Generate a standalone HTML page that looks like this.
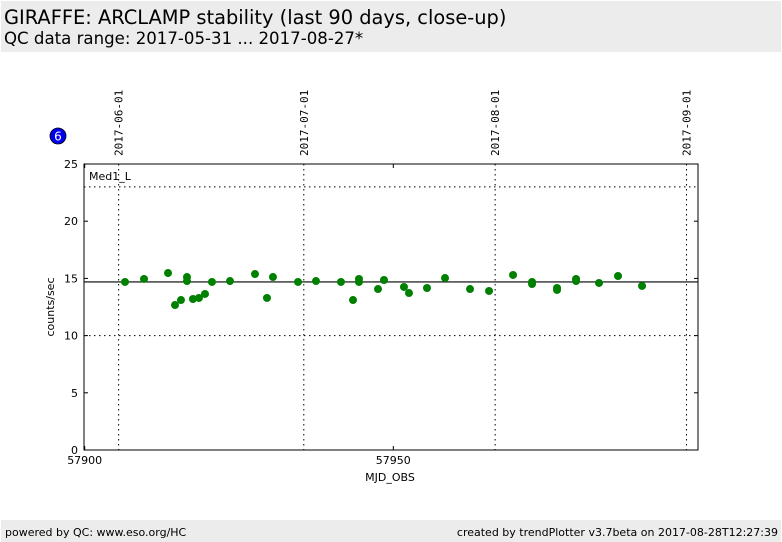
<!DOCTYPE html>
<html><head><meta charset="utf-8"><style>
body{margin:0;width:782px;height:542px;background:#fff;overflow:hidden;font-family:"DejaVu Sans","Liberation Sans",sans-serif;}
.hdr{position:absolute;left:1px;top:1px;width:780px;height:51px;background:#ececec;}
.t1{position:absolute;left:3px;top:5px;font-size:19.4px;color:#000;white-space:nowrap;}
.t2{position:absolute;left:3px;top:28px;font-size:16.6px;color:#000;white-space:nowrap;}
.ftr{position:absolute;left:1px;top:520px;width:780px;height:22px;background:#ececec;font-size:11px;}
</style></head><body>
<div class="hdr">
<div class="t1">GIRAFFE: ARCLAMP stability (last 90 days, close-up)</div>
<div class="t2">QC data range: 2017-05-31 ... 2017-08-27*</div>
</div>
<svg id="chart" width="782" height="542" style="position:absolute;left:0;top:0"></svg>
<div class="ftr">
<span style="position:absolute;left:4px;top:6px">powered by QC: www.eso.org/HC</span>
<span style="position:absolute;right:3px;top:6px">created by trendPlotter v3.7beta on 2017-08-28T12:27:39</span>
</div>
<script>
const mjd=[57906.53,57909.61,57913.5,57914.63,57915.6,57916.57,57916.57,57917.54,57918.51,57919.49,57920.62,57923.54,57927.59,57929.53,57930.5,57934.56,57937.47,57941.52,57943.47,57944.44,57944.44,57947.52,57948.49,57951.73,57952.54,57955.46,57958.38,57962.43,57965.51,57969.4,57972.48,57972.48,57976.53,57976.53,57979.61,57979.61,57983.33,57986.41,57990.3];
const vals=[14.69,14.95,15.47,12.67,13.11,15.12,14.77,13.2,13.29,13.64,14.69,14.77,15.38,13.29,15.12,14.69,14.77,14.69,13.11,14.95,14.69,14.07,14.86,14.25,13.72,14.16,15.03,14.07,13.9,15.3,14.69,14.51,14.16,13.99,14.95,14.77,14.6,15.21,14.34];
const median=14.69;
const limits=[23,10];
const xTicks=[57900,57950,58000];
const yTicks=[0,5,10,15,20,25];
const dateLines=[57905.5,57935.5,57966.5,57997.5];
const dateLabels=["2017-06-01","2017-07-01","2017-08-01","2017-09-01"];
const X0=84.7,K=6.172,L=84,R=698,T=164,B=450;
const sx=v=>X0+(v-57900)*K;
const sy=v=>B-v*(B-T)/25;
const svg=document.getElementById('chart');
const NS='http://www.w3.org/2000/svg';
function mk(tag,a,p){const e=document.createElementNS(NS,tag);for(const k in a)e.setAttribute(k,a[k]);(p||svg).appendChild(e);return e;}
let e;
e=mk('rect',{x:L,y:T,width:R-L,height:B-T,fill:'#fff',stroke:'#000','stroke-width':1});


limits.forEach(v=>{e=mk('line',{x1:L,x2:R,y1:sy(v),y2:sy(v),stroke:'#000','stroke-dasharray':'1.5,3.5'});

});
dateLines.forEach((d,i)=>{const x=sx(d);
e=mk('line',{x1:x,x2:x,y1:T,y2:B,stroke:'#000','stroke-dasharray':'1.5,3.5'});


e=mk('text',{x:0,y:0,transform:`translate(${x+4},156) rotate(-90)`,'font-size':11,'font-family':'DejaVu Sans Mono,Liberation Mono,monospace'});
e.textContent=dateLabels[i];

});
e=mk('line',{x1:L,x2:R,y1:sy(median),y2:sy(median),stroke:'#000','stroke-width':1.2});


yTicks.forEach(v=>{const y=sy(v);
mk('line',{x1:L,x2:L+4,y1:y,y2:y,stroke:'#000'});mk('line',{x1:R-4,x2:R,y1:y,y2:y,stroke:'#000'});
e=mk('text',{x:L-6,y:y+4,'text-anchor':'end','font-size':11});e.textContent=v;

});
xTicks.forEach(v=>{const x=sx(v);if(x>R)return;
mk('line',{x1:x,x2:x,y1:B,y2:B-4,stroke:'#000'});mk('line',{x1:x,x2:x,y1:T,y2:T+4,stroke:'#000'});
e=mk('text',{x:x,y:B+14,'text-anchor':'middle','font-size':11});e.textContent=v;

});
mjd.forEach((m,i)=>{e=mk('circle',{cx:sx(m),cy:sy(vals[i]),r:4,fill:'#008000'});

});
e=mk('text',{x:89,y:180,'font-size':11});e.textContent='Med1_L';


e=mk('text',{x:390,y:481,'text-anchor':'middle','font-size':11});e.textContent='MJD_OBS';


e=mk('text',{x:0,y:0,transform:'translate(54,307) rotate(-90)','text-anchor':'middle','font-size':11});e.textContent='counts/sec';


e=mk('circle',{cx:58,cy:136,r:8,fill:'#0000ee',stroke:'#000','stroke-width':0.8});


e=mk('text',{x:58,y:140.5,'text-anchor':'middle','font-size':12,fill:'#fff'});e.textContent='6';


</script>
</body></html>
